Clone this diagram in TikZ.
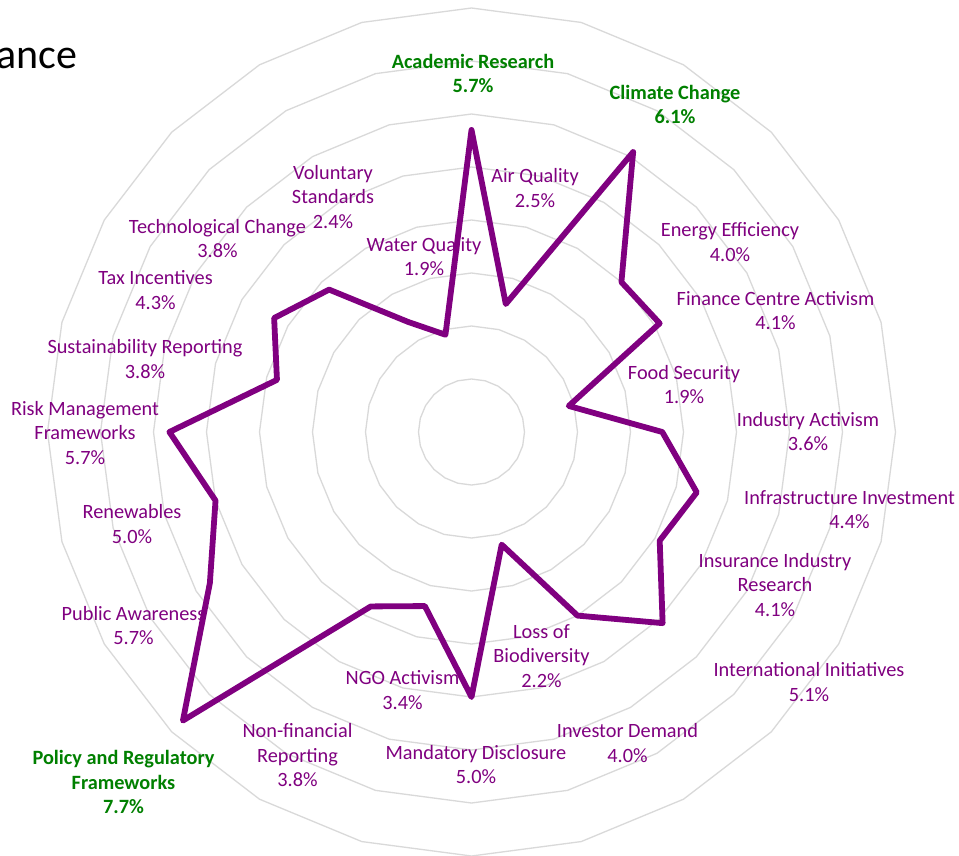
\documentclass[tikz,border=0pt]{standalone}
\usepackage{fontspec}
\setmainfont{Carlito}
\definecolor{dpurple}{HTML}{800080}
\definecolor{hgreen}{HTML}{008000}
\definecolor{gridgray}{HTML}{D9D9D9}
\begin{document}
\begin{tikzpicture}[x=1pt,y=-1pt,
  ring/.style={draw=gridgray, line width=1.3pt, line join=round},
  series/.style={draw=dpurple, line width=5.8pt, line join=round},
  lab/.style={text=dpurple, align=center, inner sep=0pt, font=\fontsize{20.3}{24.5}\selectfont},
  hilab/.style={lab, text=hgreen, font=\fontsize{20.3}{24.5}\selectfont\bfseries},
  titlestyle/.style={anchor=base west, inner sep=0pt, font=\fontsize{42}{50}\selectfont}]
\fill[white] (0,0) rectangle (959,855);
\useasboundingbox (0,0) rectangle (959,855);
\coordinate (c) at (471.5,432);
\begin{scope}[shift={(c)}]
  \foreach \n in {1,...,8}{
    \draw[ring] (-90:{\n*53}) \foreach \k in {1,...,23}{ -- ({\k*15-90}:{\n*53}) } -- cycle;
  }
  \foreach \v [count=\k from 0] in {5.7,2.5,6.1,4.0,4.1,1.9,3.6,4.4,4.1,5.1,4.0,2.2,5.0,3.4,3.8,7.7,5.7,5.0,5.7,3.8,4.3,3.8,2.4,1.9}{
    \coordinate (p\k) at ({\k*15-90}:{\v*53});
  }
\end{scope}
\node[titlestyle] (title) at (-4,68) {ance};
\node[hilab] (lab0) at (473,73.5) {Academic Research\\5.7\%};
\node[lab] (lab1) at (535,188) {Air Quality\\2.5\%};
\node[hilab] (lab2) at (675,104.5) {Climate Change\\6.1\%};
\node[lab] (lab3) at (730,242) {Energy Efficiency\\4.0\%};
\node[lab] (lab4) at (775.5,310.5) {Finance Centre Activism\\4.1\%};
\node[lab] (lab5) at (684,384.5) {Food Security\\1.9\%};
\node[lab] (lab6) at (808,431.5) {Industry Activism\\3.6\%};
\node[lab] (lab7) at (849.5,509.5) {Infrastructure Investment\\4.4\%};
\node[lab] (lab8) at (775,585) {Insurance Industry\\Research\\4.1\%};
\node[lab] (lab9) at (809,682) {International Initiatives\\5.1\%};
\node[lab] (lab10) at (627.5,743) {Investor Demand\\4.0\%};
\node[lab] (lab11) at (541.5,656) {Loss of\\Biodiversity\\2.2\%};
\node[lab] (lab12) at (476,764.5) {Mandatory Disclosure\\5.0\%};
\node[lab] (lab13) at (402.5,690) {NGO Activism\\3.4\%};
\node[lab] (lab14) at (297.5,755.5) {Non-financial\\Reporting\\3.8\%};
\node[hilab] (lab15) at (123.5,782) {Policy and Regulatory\\Frameworks\\7.7\%};
\node[lab] (lab16) at (133.5,625.5) {Public Awareness\\5.7\%};
\node[lab] (lab17) at (132,524) {Renewables\\5.0\%};
\node[lab] (lab18) at (85,433) {Risk Management\\Frameworks\\5.7\%};
\node[lab] (lab19) at (145,359) {Sustainability Reporting\\3.8\%};
\node[lab] (lab20) at (155.5,290) {Tax Incentives\\4.3\%};
\node[lab] (lab21) at (217.5,238.5) {Technological Change\\3.8\%};
\node[lab] (lab22) at (333,197) {Voluntary\\Standards\\2.4\%};
\node[lab] (lab23) at (424,256.5) {Water Quality\\1.9\%};
\draw[series] (p0) \foreach \k in {1,...,23}{ -- (p\k) } -- cycle;
\end{tikzpicture}
\end{document}
